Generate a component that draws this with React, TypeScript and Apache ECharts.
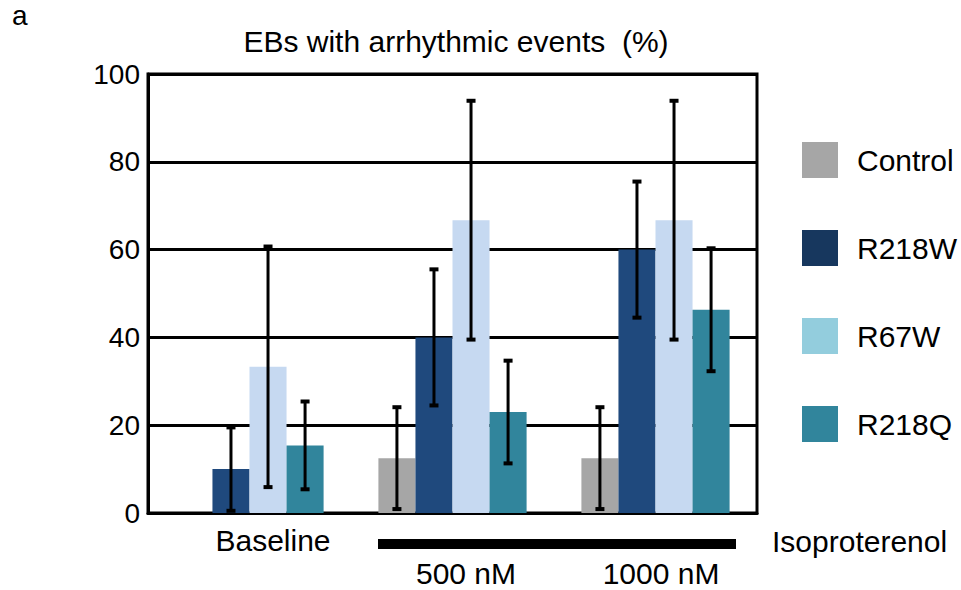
import React, { useEffect, useRef } from "react";
import * as echarts from "echarts";

const categories = ["Baseline", "500 nM", "1000 nM"];
const seriesNames = ["Control", "R218W", "R67W", "R218Q"];
const controlValues = [null, 12.5, 12.5];
const r218wValues = [10, 40, 60];
const r67wValues = [33.3, 66.7, 66.7];
const r218qValues = [15.4, 23, 46.3];
const controlErr = [null, 11.6, 11.6];
const r218wErr = [9.5, 15.5, 15.5];
const r67wErr = [27.4, 27.2, 27.2];
const r218qErr = [10, 11.7, 14];
const yTicks = [0, 20, 40, 60, 80, 100];

const barColors = ["#a6a6a6", "#1f497d", "#c6d9f1", "#31859c"];
const legendColors = ["#a6a6a6", "#17375e", "#93cddd", "#31859c"];
const FONT = "'Liberation Sans', Arial, sans-serif";
const GAP = 0.27;

export default function App() {
  const ref = useRef<HTMLDivElement>(null);
  useEffect(() => {
    if (!ref.current) return;
    const chart = echarts.init(ref.current, null, { renderer: "svg" });
    const values = [controlValues, r218wValues, r67wValues, r218qValues];
    const errs = [controlErr, r218wErr, r67wErr, r218qErr];
    const n = seriesNames.length;

    const barSeries = seriesNames.map((name, i) => ({
      name,
      type: "bar",
      data: values[i],
      barGap: "0%",
      barCategoryGap: GAP * 100 + "%",
      itemStyle: { color: barColors[i] },
      z: 2,
    }));

    const errSeries = seriesNames.map((name, si) => ({
      name: name + " err",
      type: "custom",
      z: 5,
      data: categories
        .map((_, ci) => {
          const v = values[si][ci];
          const e = errs[si][ci];
          if (v == null || e == null) return null;
          return [ci, v - e, v + e];
        })
        .filter((d) => d !== null),
      renderItem: (params: any, api: any) => {
        const cat = api.value(0);
        const lo = api.value(1);
        const hi = api.value(2);
        const band = api.size([1, 0])[0];
        const bw = (band * (1 - GAP)) / n;
        const cx = api.coord([cat, 0])[0] + (si - (n - 1) / 2) * bw;
        const yTop = api.coord([cat, hi])[1];
        const yBot = api.coord([cat, lo])[1];
        const cap = 4.5;
        const style = { stroke: "#000", lineWidth: 3 };
        return {
          type: "group",
          children: [
            { type: "line", shape: { x1: cx, y1: yTop, x2: cx, y2: yBot }, style },
            { type: "rect", shape: { x: cx - cap, y: yTop - 2, width: cap * 2, height: 4 }, style: { fill: "#000" } },
            { type: "rect", shape: { x: cx - cap, y: yBot - 2, width: cap * 2, height: 4 }, style: { fill: "#000" } },
          ],
        };
      },
    }));

    const textStyle = { fontFamily: FONT, fontSize: 30, fill: "#000" };

    chart.setOption({
      animation: false,
      textStyle: { fontFamily: FONT },
      grid: {
        left: 148,
        right: 204,
        top: 74,
        bottom: 77,
        show: true,
        borderColor: "#000",
        borderWidth: 3,
        containLabel: false,
      },
      legend: {
        orient: "vertical",
        left: 802,
        top: 142,
        padding: 0,
        itemWidth: 36,
        itemHeight: 36,
        itemGap: 52,
        icon: "rect",
        textStyle: { fontSize: 30, color: "#000", fontFamily: FONT, padding: [0, 0, 0, 14] },
        data: seriesNames.map((name, i) => ({ name, itemStyle: { color: legendColors[i] } })),
      },
      xAxis: {
        type: "category",
        data: categories,
        axisLabel: { show: false },
        axisTick: { show: false },
        axisLine: { lineStyle: { color: "#000", width: 3 } },
      },
      yAxis: {
        type: "value",
        min: yTicks[0],
        max: yTicks[yTicks.length - 1],
        interval: 20,
        axisLine: { show: true, lineStyle: { color: "#000", width: 3 } },
        axisTick: { show: false },
        axisLabel: { fontSize: 28, color: "#000", fontFamily: FONT, margin: 8 },
        splitLine: { lineStyle: { color: "#000", width: 3 } },
      },
      graphic: [
        { type: "text", left: 12, top: 1, style: { ...textStyle, text: "a", fontSize: 28 } },
        {
          type: "text",
          x: 456,
          y: 41,
          style: { ...textStyle, text: "EBs with arrhythmic events  (%)", fontSize: 30, textAlign: "center", textVerticalAlign: "middle" },
        },
        { type: "text", x: 273, y: 540, style: { ...textStyle, text: categories[0], textAlign: "center", textVerticalAlign: "middle" } },
        { type: "rect", shape: { x: 378, y: 539, width: 358, height: 10 }, style: { fill: "#000" } },
        { type: "text", x: 466, y: 573, style: { ...textStyle, text: categories[1], textAlign: "center", textVerticalAlign: "middle" } },
        { type: "text", x: 661, y: 573, style: { ...textStyle, text: categories[2], textAlign: "center", textVerticalAlign: "middle" } },
        { type: "text", x: 772, y: 541, style: { ...textStyle, text: "Isoproterenol", textAlign: "left", textVerticalAlign: "middle" } },
      ],
      series: [...barSeries, ...errSeries],
    });
    return () => chart.dispose();
  }, []);
  return <div ref={ref} style={{ position: "fixed", left: 0, top: 0, width: 961, height: 590, background: "#fff" }} />;
}
